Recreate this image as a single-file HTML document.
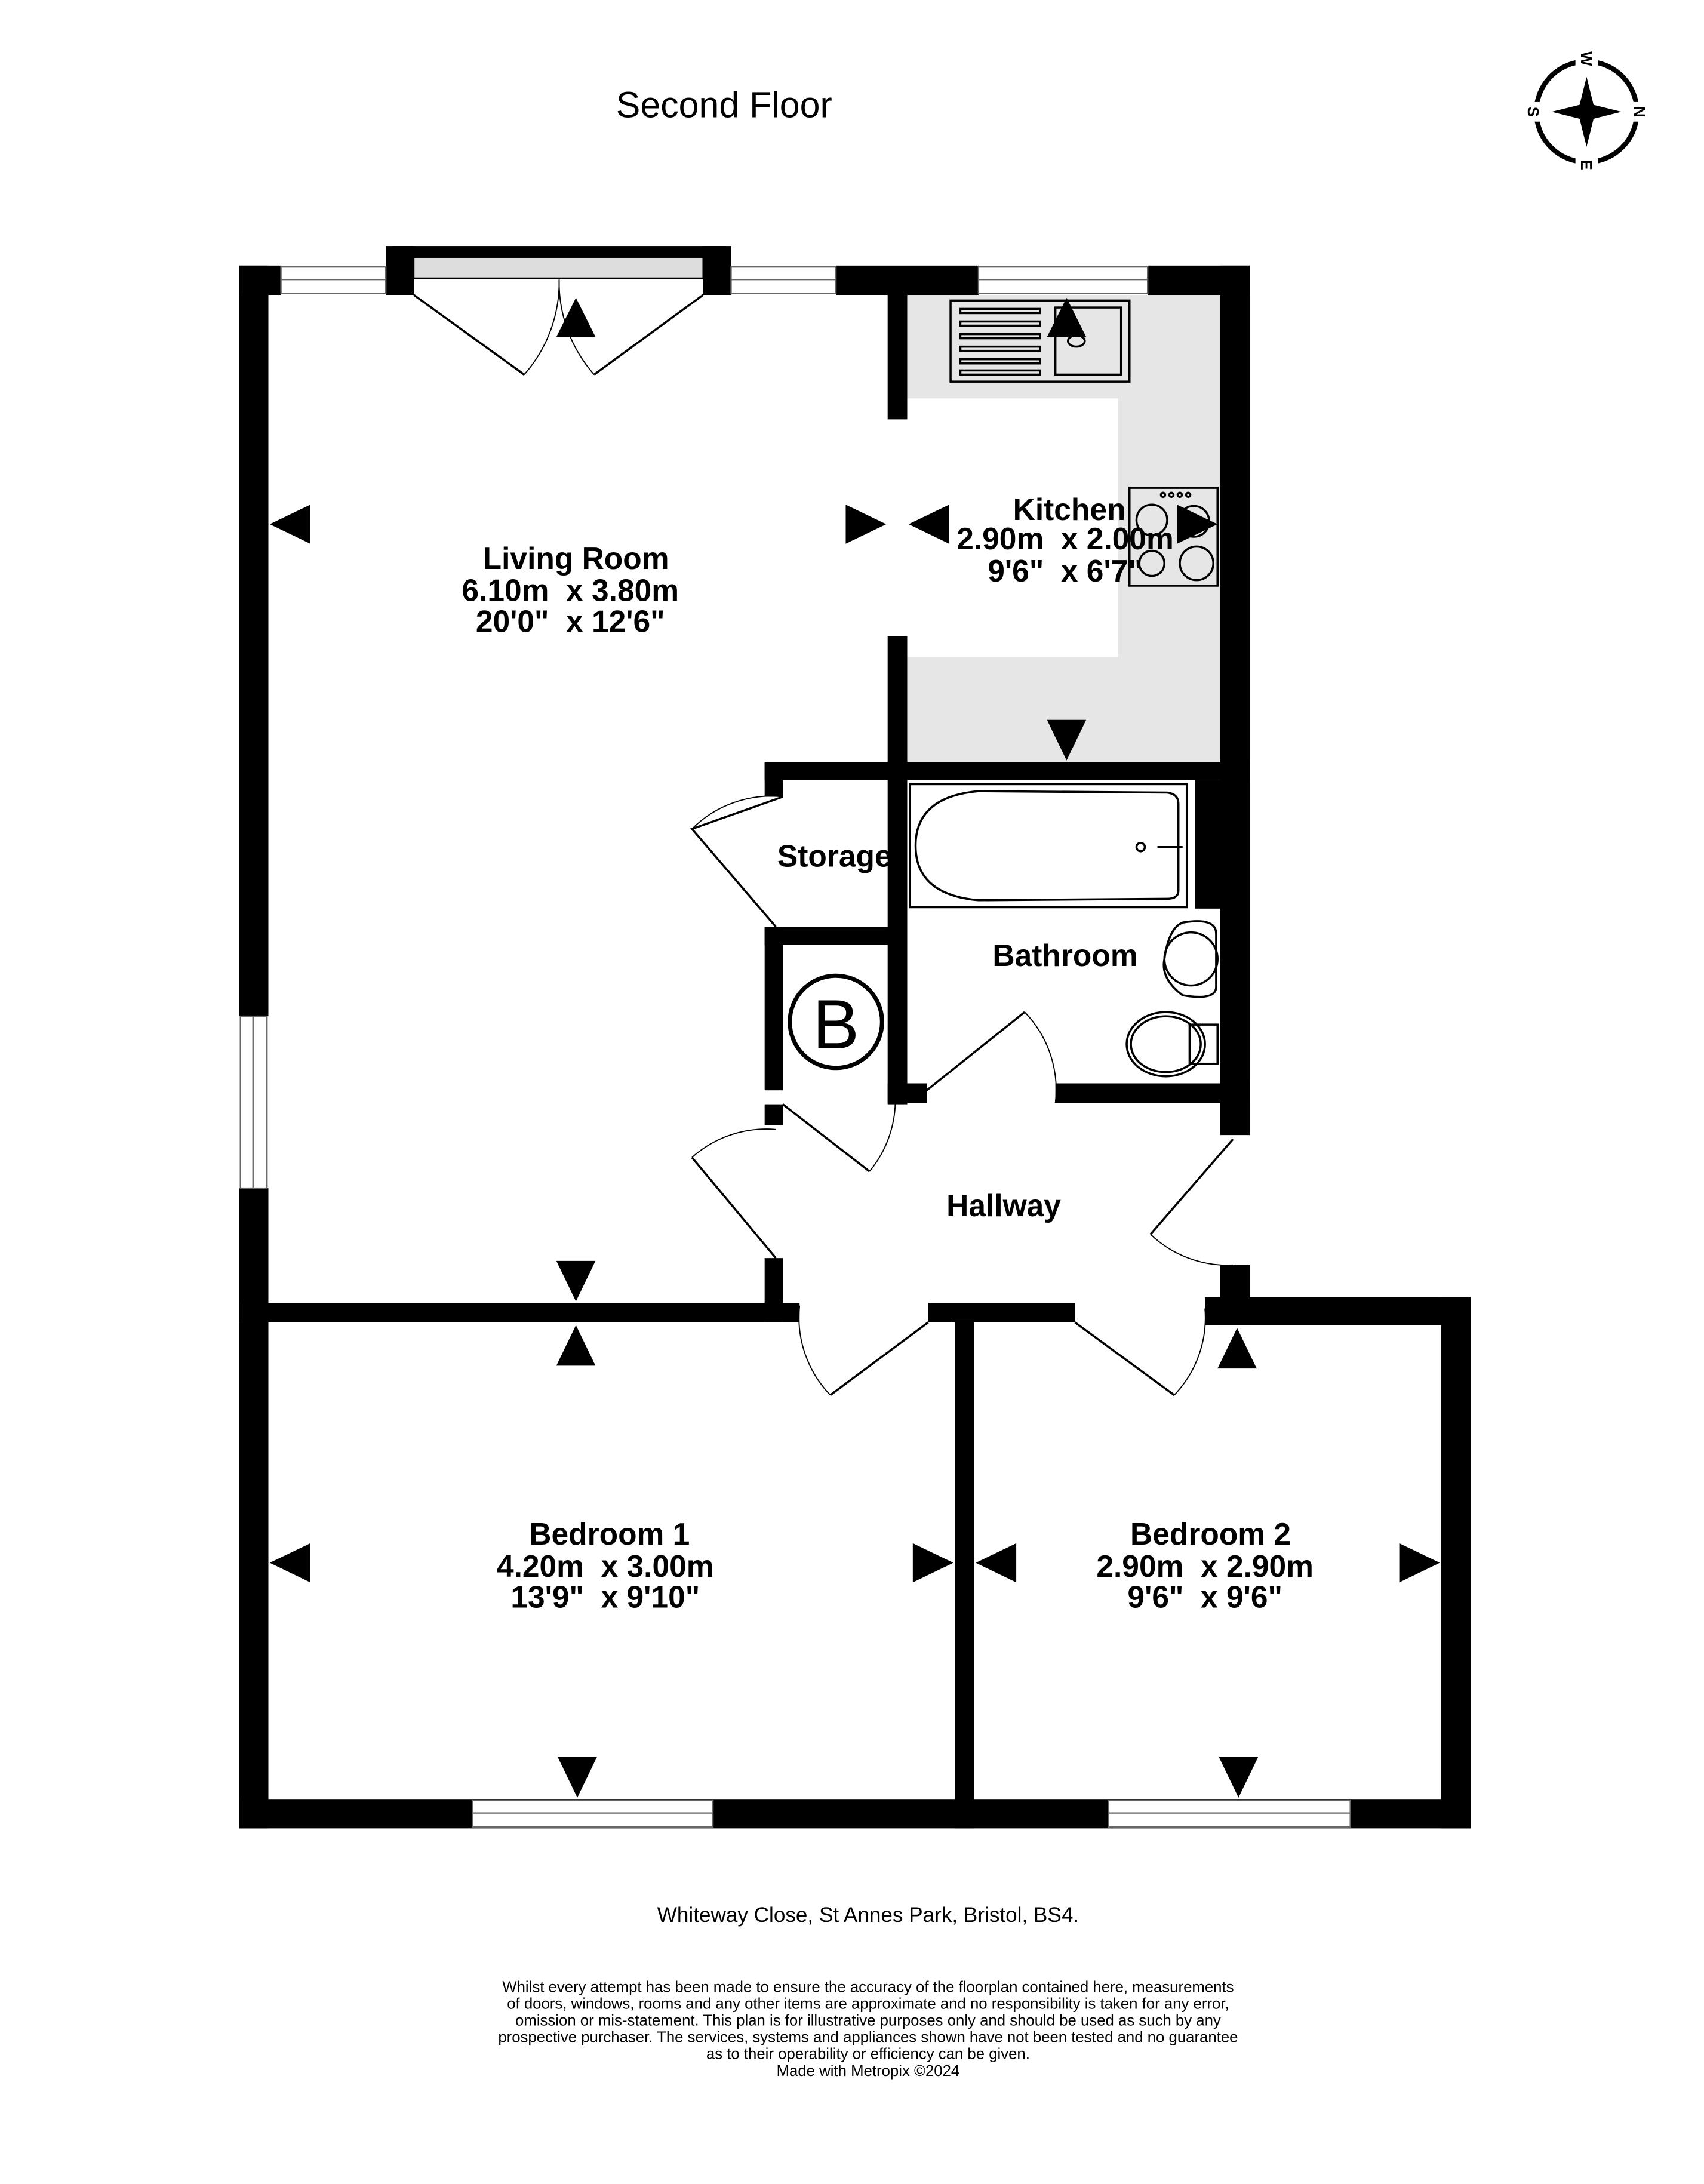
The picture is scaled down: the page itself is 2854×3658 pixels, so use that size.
<!DOCTYPE html>
<html><head><meta charset="utf-8"><style>
html,body{margin:0;padding:0;background:#fff;}
svg{display:block;}
text{font-family:"Liberation Sans",sans-serif;white-space:pre;}
</style></head><body>
<svg width="2854" height="3658" viewBox="0 0 1219 1562.4" preserveAspectRatio="none" xmlns="http://www.w3.org/2000/svg" xml:space="preserve">
<rect width="1219" height="1563" fill="#fff"/>
<text x="518" y="84" font-size="26" text-anchor="middle">Second Floor</text>
<g transform="translate(1135,80)">
<circle r="36" fill="none" stroke="#000" stroke-width="3.5"/>
<rect x="-8" y="-42" width="16" height="12" fill="#fff"/><rect x="-8" y="30" width="16" height="12" fill="#fff"/>
<rect x="-42" y="-7" width="12" height="14" fill="#fff"/><rect x="30" y="-7" width="12" height="14" fill="#fff"/>
<path d="M0,-25 L5,-5 L25,0 L5,5 L0,25 L-5,5 L-25,0 L-5,-5Z" fill="#000"/>
<text x="0" y="-38" font-size="11" font-weight="bold" text-anchor="middle" transform="rotate(90 0 -38)" dy="4">W</text>
<text x="38" y="4" font-size="11" font-weight="bold" text-anchor="middle" transform="rotate(90 38 0)">N</text>
<text x="-38" y="4" font-size="11" font-weight="bold" text-anchor="middle" transform="rotate(90 -38 0)">S</text>
<text x="0" y="42" font-size="11" font-weight="bold" text-anchor="middle" transform="rotate(90 0 38)">E</text>
</g>
<rect x="649" y="211" width="224" height="334" fill="#e6e6e6"/>
<rect x="649" y="285" width="151" height="185" fill="#fff"/>
<g fill="#000">
<rect x="171" y="190" width="30" height="21"/>
<rect x="276" y="176" width="20" height="35"/>
<rect x="503" y="176" width="20" height="35"/>
<rect x="281" y="176" width="238" height="8"/>
<rect x="598" y="190" width="102" height="21"/>
<rect x="821" y="190" width="73" height="21"/>
<rect x="171" y="190" width="21" height="537"/>
<rect x="171" y="850" width="21" height="458"/>
<rect x="873" y="190" width="21" height="622"/>
<rect x="635" y="211" width="14" height="89"/>
<rect x="635" y="455" width="14" height="335"/>
<rect x="547" y="545" width="347" height="13"/>
<rect x="547" y="545" width="13" height="25"/>
<rect x="855" y="558" width="20" height="92"/>
<rect x="547" y="663" width="13" height="117"/>
<rect x="547" y="663" width="100" height="13"/>
<rect x="547" y="790" width="13" height="15"/>
<rect x="635" y="775" width="28" height="14"/>
<rect x="755" y="775" width="139" height="14"/>
<rect x="873" y="905" width="21" height="43"/>
<rect x="171" y="932" width="401" height="14"/>
<rect x="547" y="900" width="13" height="46"/>
<rect x="664" y="932" width="105" height="14"/>
<rect x="862" y="928" width="190" height="20"/>
<rect x="1031" y="928" width="21" height="380"/>
<rect x="683" y="946" width="14" height="362"/>
<rect x="171" y="1287" width="881" height="21"/>
</g>
<rect x="296" y="184" width="207" height="15" fill="#ddd" stroke="#000" stroke-width="1"/>
<g fill="#fff" stroke="#666" stroke-width="1">
<rect x="201" y="191" width="75" height="19"/><line x1="201" y1="200" x2="276" y2="200"/>
<rect x="523" y="191" width="75" height="19"/><line x1="523" y1="200" x2="598" y2="200"/>
<rect x="700" y="191" width="121" height="19"/><line x1="700" y1="200" x2="821" y2="200"/>
<rect x="172" y="727" width="19" height="123"/><line x1="181" y1="727" x2="181" y2="850"/>
<rect x="338" y="1288" width="172" height="19"/><line x1="338" y1="1297" x2="510" y2="1297"/>
<rect x="793" y="1288" width="173" height="19"/><line x1="793" y1="1297" x2="966" y2="1297"/>
</g>
<g fill="none" stroke="#000" stroke-width="1.5">
<path d="M296,211 L375,268"/><path d="M503,211 L425,268"/>
<path d="M375,268 A100,100 0 0 0 400,200" stroke-width="0.8"/><path d="M425,268 A100,100 0 0 1 400,200" stroke-width="0.8"/>
<path d="M560,570 L495,593 L555,663"/><path d="M495,593 A80,80 0 0 1 560,570" stroke-width="0.8"/>
<path d="M560,790 L622,838"/><path d="M622,838 A80,80 0 0 0 640,778" stroke-width="0.8"/>
<path d="M663,780 L733,724"/><path d="M733,724 A80,80 0 0 1 755,789" stroke-width="0.8"/>
<path d="M555,900 L495,828"/><path d="M495,828 A80,80 0 0 1 555,808" stroke-width="0.8"/>
<path d="M882,815 L823,883"/><path d="M823,883 A80,80 0 0 0 882,905" stroke-width="0.8"/>
<path d="M664,946 L594,998"/><path d="M594,998 A80,80 0 0 1 572,934" stroke-width="0.8"/>
<path d="M769,946 L840,998"/><path d="M840,998 A80,80 0 0 0 862,936" stroke-width="0.8"/>
</g>
<g fill="none" stroke="#000" stroke-width="1.5">
<rect x="680" y="215" width="128" height="58"/>
<rect x="755" y="220" width="47" height="48"/>
<rect x="687" y="221" width="57" height="3"/><rect x="687" y="230" width="57" height="3"/><rect x="687" y="239" width="57" height="3"/>
<rect x="687" y="248" width="57" height="3"/><rect x="687" y="257" width="57" height="3"/><rect x="687" y="265" width="57" height="3"/>
<ellipse cx="770" cy="244" rx="6" ry="4"/>
<rect x="808" y="349" width="63" height="70"/>
<circle cx="824" cy="372" r="11"/><circle cx="854" cy="373" r="11"/><circle cx="824" cy="403" r="9"/><circle cx="856" cy="403" r="12"/>
<circle cx="832" cy="354" r="1.5"/><circle cx="838" cy="354" r="1.5"/><circle cx="844" cy="354" r="1.5"/><circle cx="850" cy="354" r="1.5"/>
<rect x="651" y="561" width="198" height="88"/>
<path d="M700,566 L835,567 Q843,568 843,575 L843,637 Q843,643 835,643 L700,644 Q655,640 655,605 Q655,570 700,566Z"/>
<circle cx="816" cy="606" r="3"/><path d="M828,606 L846,606"/>
<path d="M846,660 Q870,656 870,668 L870,706 Q870,716 846,712 Q830,700 833,686 Q836,664 846,660Z"/>
<circle cx="852" cy="686" r="19"/>
<ellipse cx="834" cy="747" rx="28" ry="23"/><ellipse cx="834" cy="747" rx="25" ry="20"/>
<rect x="851" y="733" width="20" height="28"/>
<circle cx="598" cy="731" r="33" stroke-width="3"/>
</g>
<text x="598" y="750" font-size="50" text-anchor="middle">B</text>
<g fill="#000">
<path d="M193,375 L222,361 L222,389Z"/>
<path d="M634,375 L605,361 L605,389Z"/>
<path d="M650,375 L679,361 L679,389Z"/>
<path d="M871,375 L842,361 L842,389Z"/>
<path d="M412,213 L398,241 L426,241Z"/>
<path d="M763,213 L749,241 L777,241Z"/>
<path d="M763,544 L749,515 L777,515Z"/>
<path d="M412,931 L398,902 L426,902Z"/>
<path d="M412,948 L398,977 L426,977Z"/>
<path d="M193,1118 L222,1104 L222,1132Z"/>
<path d="M682,1118 L653,1104 L653,1132Z"/>
<path d="M698,1118 L727,1104 L727,1132Z"/>
<path d="M1030,1118 L1001,1104 L1001,1132Z"/>
<path d="M885,950 L871,979 L899,979Z"/>
<path d="M413,1286 L399,1257 L427,1257Z"/>
<path d="M886,1286 L872,1257 L900,1257Z"/>
</g>
<g font-weight="bold" font-size="22" text-anchor="middle">
<text x="412" y="407">Living Room</text><text x="408" y="430">6.10m  x 3.80m</text><text x="408" y="452">20'0"  x 12'6"</text>
<text x="765" y="372">Kitchen</text><text x="762" y="393">2.90m  x 2.00m</text><text x="762" y="416">9'6"  x 6'7"</text>
<text x="597" y="620">Storage</text>
<text x="762" y="691">Bathroom</text>
<text x="718" y="870">Hallway</text>
<text x="436" y="1105">Bedroom 1</text><text x="433" y="1128">4.20m  x 3.00m</text><text x="433" y="1150">13'9"  x 9'10"</text>
<text x="866" y="1105">Bedroom 2</text><text x="862" y="1128">2.90m  x 2.90m</text><text x="862" y="1150">9'6"  x 9'6"</text>
</g>
<text x="621" y="1375" font-size="15" text-anchor="middle">Whiteway Close, St Annes Park, Bristol, BS4.</text>
<g font-size="11" text-anchor="middle">
<text x="621" y="1425">Whilst every attempt has been made to ensure the accuracy of the floorplan contained here, measurements</text>
<text x="621" y="1437">of doors, windows, rooms and any other items are approximate and no responsibility is taken for any error,</text>
<text x="621" y="1449">omission or mis-statement. This plan is for illustrative purposes only and should be used as such by any</text>
<text x="621" y="1461">prospective purchaser. The services, systems and appliances shown have not been tested and no guarantee</text>
<text x="621" y="1473">as to their operability or efficiency can be given.</text>
<text x="621" y="1485">Made with Metropix ©2024</text>
</g>
</svg>
</body></html>
